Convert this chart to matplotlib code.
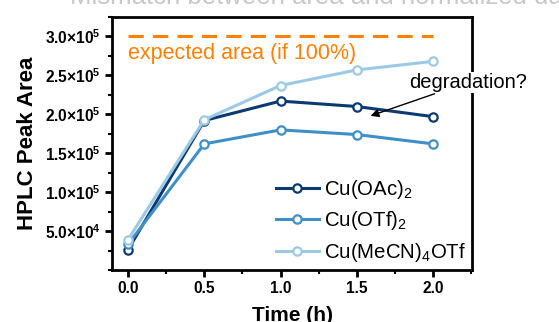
import numpy as np
import matplotlib
matplotlib.use("Agg")
import matplotlib.pyplot as plt
from matplotlib.ticker import MultipleLocator, FixedLocator, FixedFormatter

plt.rcParams['font.family'] = ['Liberation Sans', 'DejaVu Sans']
plt.rcParams['mathtext.fontset'] = 'custom'
plt.rcParams['mathtext.rm'] = 'Liberation Sans'
plt.rcParams['mathtext.it'] = 'Liberation Sans:italic'
plt.rcParams['mathtext.bf'] = 'Liberation Sans:bold'

# data
time_h = [0.0, 0.5, 1.0, 1.5, 2.0]
cu_oac2 = [2.6e4, 1.92e5, 2.17e5, 2.10e5, 1.97e5]
cu_otf2 = [3.3e4, 1.62e5, 1.80e5, 1.74e5, 1.62e5]
cu_mecn4otf = [3.9e4, 1.93e5, 2.37e5, 2.57e5, 2.68e5]
expected_area = 3.0e5

series_labels = [r"Cu(OAc)$_2$", r"Cu(OTf)$_2$", r"Cu(MeCN)$_4$OTf"]
series_colors = ["#0b3a72", "#3f8fc8", "#9ccae4"]

ytick_vals = [5e4, 1e5, 1.5e5, 2e5, 2.5e5, 3e5]
ytick_labels = [r"5.0×10$^{\mathbf{4}}$", r"1.0×10$^{\mathbf{5}}$", r"1.5×10$^{\mathbf{5}}$",
                r"2.0×10$^{\mathbf{5}}$", r"2.5×10$^{\mathbf{5}}$", r"3.0×10$^{\mathbf{5}}$"]
xtick_vals = [0.0, 0.5, 1.0, 1.5, 2.0]


def main():
	fig = plt.figure(figsize=(5.59, 3.22), dpi=100)
	ax = fig.add_axes([112/559, 52/322, 360/559, 253/322])

	# cut-off title from the larger figure
	fig.text(70/559, 1 - 3.5/322, "Mismatch between area and normalized data",
	         color="#c8c8c8", fontsize=18.5, va="baseline", ha="left")

	ax.plot([time_h[0], time_h[-1]], [expected_area, expected_area], color="#ff8000",
	        lw=2.2, dashes=(5, 3), zorder=2)
	ax.text(0.0, 2.71e5, "expected area (if 100%)", color="#ff8000", fontsize=15.5,
	        va="baseline", ha="left")

	for vals, lab, col in zip([cu_oac2, cu_otf2, cu_mecn4otf], series_labels, series_colors):
		ax.plot(time_h, vals, color=col, lw=2.2, marker="o", markersize=6,
		        markerfacecolor="white", markeredgecolor=col, markeredgewidth=1.6,
		        label=lab, zorder=3)

	ax.annotate("degradation?", xy=(1.59, 1.98e5), xytext=(1.84, 2.34e5),
	            fontsize=14.5, ha="left", va="baseline",
	            bbox=dict(boxstyle="square,pad=0.05", fc="white", ec="none"),
	            arrowprops=dict(arrowstyle="-|>", color="black", lw=1.0,
	                            mutation_scale=12, shrinkA=2, shrinkB=0),
	            annotation_clip=False, zorder=5)

	ax.set_xlim(-0.105, 2.255)
	ax.set_ylim(0, 3.25e5)
	ax.xaxis.set_major_locator(FixedLocator(xtick_vals))
	ax.xaxis.set_minor_locator(MultipleLocator(0.25))
	ax.set_xticklabels([f"{v:.1f}" for v in xtick_vals])
	ax.yaxis.set_major_locator(FixedLocator(ytick_vals))
	ax.yaxis.set_major_formatter(FixedFormatter(ytick_labels))
	ax.yaxis.set_minor_locator(MultipleLocator(2.5e4))

	for lbl in ax.get_xticklabels() + ax.get_yticklabels():
		lbl.set_fontweight("bold")
		lbl.set_fontsize(11.2)
	for sp in ax.spines.values():
		sp.set_linewidth(2.0)
	ax.tick_params(which="major", direction="out", length=5, width=2, pad=3)
	ax.tick_params(which="minor", direction="out", length=3, width=1.5)

	ax.set_xlabel("Time (h)", fontsize=15, fontweight="bold", labelpad=7)
	ax.set_ylabel("HPLC Peak Area", fontsize=16, fontweight="bold", labelpad=5)

	leg = ax.legend(loc="lower right", frameon=False, fontsize=14.7, handlelength=2.1,
	                handletextpad=0.25, labelspacing=0.42, borderaxespad=0.1,
	                borderpad=0.2)
	leg.set_zorder(6)

	fig.savefig("out.png", dpi=100)
	plt.close(fig)


if __name__ == "__main__":
	main()
